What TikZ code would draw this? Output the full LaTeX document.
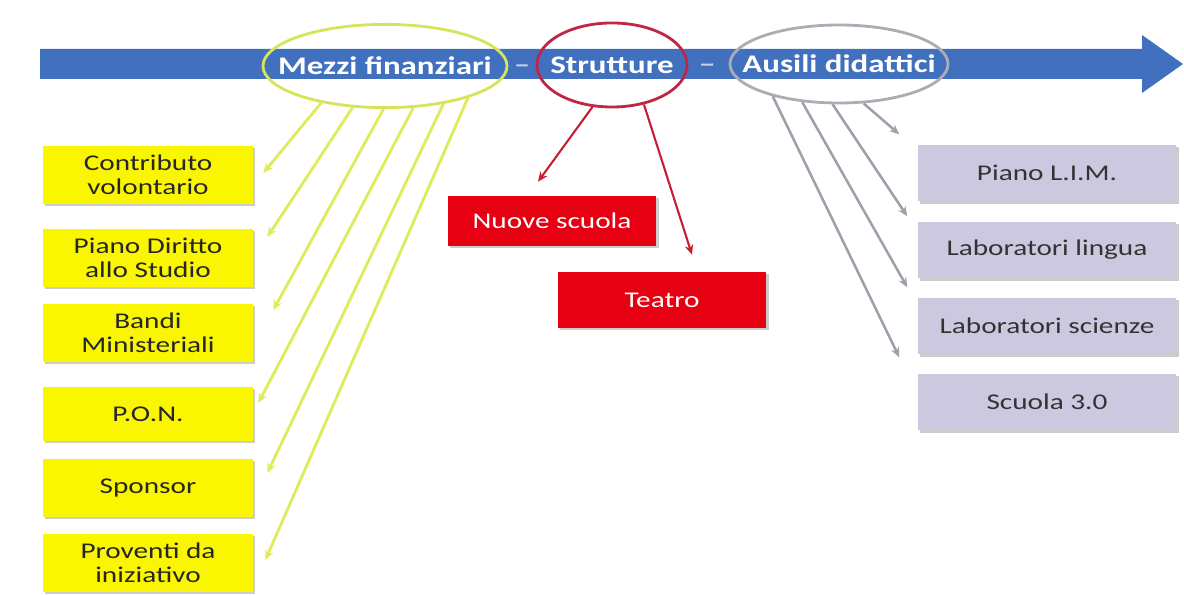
\documentclass[tikz,border=0pt]{standalone}
\usepackage{fontspec}
\setmainfont{Carlito}[FakeStretch=1.3]
\usetikzlibrary{arrows.meta,shapes.geometric,shadows}
\definecolor{barblue}{RGB}{65,113,190}
\definecolor{cardyellow}{RGB}{250,246,0}
\definecolor{cardred}{RGB}{230,0,18}
\definecolor{cardgray}{RGB}{204,200,224}
\definecolor{lineyellow}{RGB}{222,235,90}
\definecolor{linered}{RGB}{200,30,50}
\definecolor{linegray}{RGB}{160,160,172}
\definecolor{ringyellow}{RGB}{215,228,90}
\definecolor{ringred}{RGB}{190,40,70}
\definecolor{ringgray}{RGB}{172,172,182}
\definecolor{dashgray}{RGB}{200,210,230}
\begin{document}
\begin{tikzpicture}[x=0.025cm,y=-0.025cm,
  ring/.style={draw,ellipse,line width=2pt,inner sep=0pt},
  ringtext/.style={text=white,font=\fontsize{18}{20}\selectfont\bfseries},
  card/.style={rectangle,inner sep=2pt,align=center,font=\fontsize{16}{17}\selectfont,drop shadow={shadow xshift=1.5pt,shadow yshift=-1.5pt,fill=black!40,opacity=.5}},
  yellowcard/.style={card,fill=cardyellow,text=black!85,minimum width=5.25cm,minimum height=1.45cm},
  redcard/.style={card,fill=cardred,text=white,minimum width=5.22cm,minimum height=1.25cm},
  graycard/.style={card,fill=cardgray,text=black!80,minimum width=6.47cm,minimum height=1.42cm},
  yline/.style={draw=lineyellow,line width=2pt,-{Stealth[length=7pt,width=6pt]}},
  rline/.style={draw=linered,line width=1.5pt,-{Stealth[length=7pt,width=6pt]}},
  gline/.style={draw=linegray,line width=1.8pt,-{Stealth[length=7pt,width=6pt]}},
  dashline/.style={draw=dashgray,line width=1.5pt}]
\useasboundingbox (0,0) rectangle (1184,596);
\fill[barblue] (40,49) -- (1142,49) -- (1142,35) -- (1183,64) -- (1142,93) -- (1142,79) -- (40,79) -- cycle;

\node[ring,draw=ringyellow,minimum width=6.1cm,minimum height=2.08cm,label={[ringtext]center:Mezzi finanziari}] (mezzi) at (385,66) {};
\node[ring,draw=ringred,minimum width=3.75cm,minimum height=2.1cm,label={[ringtext]center:Strutture}] (strutture) at (612,65) {};
\node[ring,draw=ringgray,minimum width=5.45cm,minimum height=1.95cm,label={[ringtext]center:Ausili didattici}] (ausili) at (839,64) {};

\node[yellowcard] (contributo) at (148,175) {Contributo\\volontario};
\node[yellowcard] (diritto) at (148,258) {Piano Diritto\\allo Studio};
\node[yellowcard] (bandi) at (148,333) {Bandi\\Ministeriali};
\node[yellowcard,minimum height=1.35cm] (pon) at (148,414) {P.O.N.};
\node[yellowcard] (sponsor) at (148,488) {Sponsor};
\node[yellowcard] (proventi) at (148,563) {Proventi da\\iniziativo};

\node[redcard] (nuove) at (552,221) {Nuove scuola};
\node[redcard,minimum height=1.4cm] (teatro) at (662,300) {Teatro};

\node[graycard] (lim) at (1047,173) {Piano L.I.M.};
\node[graycard] (lingua) at (1047,250) {Laboratori lingua};
\node[graycard] (scienze) at (1047,326) {Laboratori scienze};
\node[graycard] (scuola) at (1047,402) {Scuola 3.0};

\path[dashline,shorten <=5.7pt,shorten >=5.7pt] (mezzi) -- (strutture);
\path[dashline,shorten <=9pt,shorten >=11pt] (strutture) -- (ausili);

\path[yline] (mezzi.210) -- ([shift={(10,-2)}]contributo.east);
\path[yline] (mezzi.232) -- ([shift={(14,-21)}]diritto.east);
\path[yline] (mezzi.268) -- ([shift={(20,-23)}]bandi.east);
\path[yline] (mezzi.304) -- ([shift={(5,-11)}]pon.east);
\path[yline] (mezzi.327) -- ([shift={(14,-15)}]sponsor.east);
\path[yline] (mezzi.339) -- ([shift={(12,-3)}]proventi.east);

\path[rline] (strutture.245) -- ([shift={(-14,-14)}]nuove.north);
\path[rline] (strutture.309) -- ([shift={(30,-17)}]teatro.north);

\path[gline] (ausili.302) -- ([shift={(-18,-10)}]lim.north west);
\path[gline] (ausili.261) -- ([shift={(-10,-5)}]lingua.north west);
\path[gline] (ausili.226) -- ([shift={(-10,-10)}]scienze.north west);
\path[gline] (ausili.206) -- ([shift={(-18,-16)}]scuola.north west);
\end{tikzpicture}
\end{document}
